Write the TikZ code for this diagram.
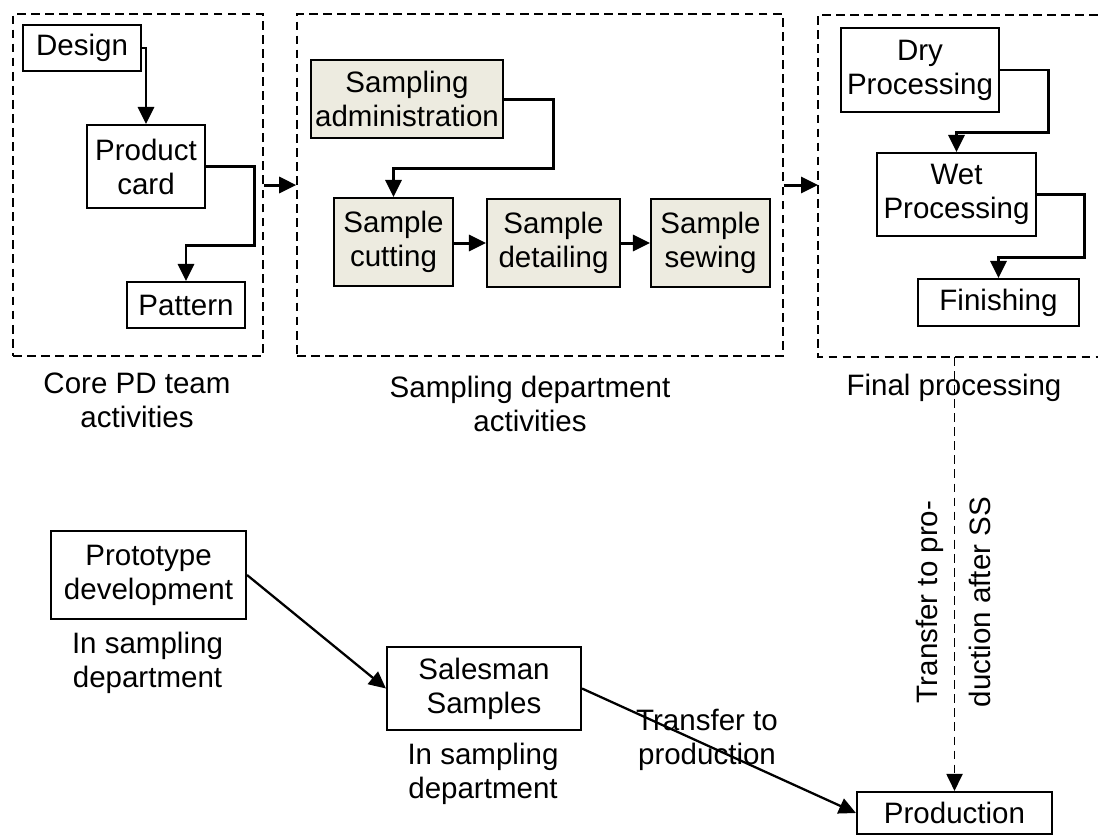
\documentclass[tikz,border=0pt]{standalone}
\usepackage{fontspec}
\setmainfont{Liberation Sans}
\usetikzlibrary{arrows.meta,positioning,calc}
\definecolor{samplefill}{RGB}{237,235,224}

\begin{document}
\begin{tikzpicture}[
    x=0.02cm,y=-0.02cm,
    stepbox/.style={draw,line width=1.2pt,inner sep=0pt,align=center,font=\fontsize{16.8}{19.4}\selectfont},
    samplebox/.style={stepbox,fill=samplefill},
    areabox/.style={draw,line width=1pt,dash pattern=on 5pt off 3pt,inner sep=0pt},
    caption/.style={align=center,inner sep=0pt,font=\fontsize{16.8}{19.4}\selectfont},
    link/.style={->,line width=1.7pt},
    >={Triangle[length=0.34cm,width=0.32cm]}
]
\useasboundingbox (0,0) rectangle (1098,836);

% activity areas
\node[areabox,minimum width=5cm,minimum height=6.84cm] (core) at (138,185) {};
\node[areabox,minimum width=9.72cm,minimum height=6.84cm] (sampling) at (540,185) {};
\draw[line width=1pt,dash pattern=on 5pt off 3pt] (1098,15) -- (818,15) -- (818,357) -- (1098,357);
\coordinate (final) at (818,185);
\coordinate (finalout) at (954.5,357);

\node[caption] (corelbl) at (137,400) {Core PD team\\activities};
\node[caption] (samplbl) at (530,404) {Sampling department\\activities};
\node[caption] (finallbl) at (954,388) {Final processing};

% core PD team
\node[stepbox,minimum width=2.36cm,minimum height=0.92cm] (design) at (82,48) {Design};
\node[stepbox,minimum width=2.36cm,minimum height=1.66cm] (card) at (146,166.5) {Product\\card};
\node[stepbox,minimum width=2.36cm,minimum height=0.92cm] (pattern) at (186,305) {Pattern};
\draw[link] (design.east) -| (card.north);
\draw[link] (card.east) -| ++(48,79) -| (pattern.north);

% sampling department
\node[samplebox,minimum width=3.84cm,minimum height=1.56cm] (sadmin) at (407,99) {Sampling\\administration};
\node[samplebox,minimum width=2.38cm,minimum height=1.76cm] (scut) at (393.5,242) {Sample\\cutting};
\node[samplebox,minimum width=2.66cm,minimum height=1.76cm] (sdetail) at (553.5,243) {Sample\\detailing};
\node[samplebox,minimum width=2.38cm,minimum height=1.76cm] (ssew) at (710.5,243) {Sample\\sewing};
\draw[link] (sadmin.east) -| ++(49,69) -| (scut.north);
\draw[link] (scut.east |- sdetail) -- (sdetail);
\draw[link] (sdetail) -- (ssew);

% final processing
\node[stepbox,minimum width=3.16cm,minimum height=1.68cm] (dry) at (920,70) {Dry\\Processing};
\node[stepbox,minimum width=3.18cm,minimum height=1.66cm] (wet) at (956.5,194.5) {Wet\\Processing};
\node[stepbox,minimum width=3.22cm,minimum height=0.94cm] (finish) at (998.5,302.5) {Finishing};
\draw[link] (dry.east) -| ++(48,62) -| (wet.north);
\draw[link] (wet.east) -| ++(47,63) -| (finish.north);

\draw[link] (core) -- (sampling);
\draw[link] (sampling) -- (final);

% prototype to production
\node[stepbox,minimum width=3.9cm,minimum height=1.76cm] (proto) at (148.5,575) {Prototype\\development};
\node[caption] (protolbl) at (147.5,663) {In sampling\\department};
\node[stepbox,minimum width=3.88cm,minimum height=1.66cm] (sales) at (484,688.5) {Salesman\\Samples};
\node[caption] (saleslbl) at (483,774) {In sampling\\department};
\node[stepbox,minimum width=3.9cm,minimum height=0.84cm] (prod) at (954.5,813) {Production};
\node[caption] (translbl) at (707,740) {Transfer to\\production};
\node[caption,rotate=90] (sslbl) at (953.5,602) {Transfer to pro-\\[0.37cm]duction after SS};

\draw[link,line width=1.3pt] (proto.east) -- (sales.west);
\draw[link,line width=1.3pt] (sales.east) -- (prod.west);
\draw[link,line width=1.1pt,dash pattern=on 5pt off 3pt] (finalout) -- (prod);
\end{tikzpicture}
\end{document}
